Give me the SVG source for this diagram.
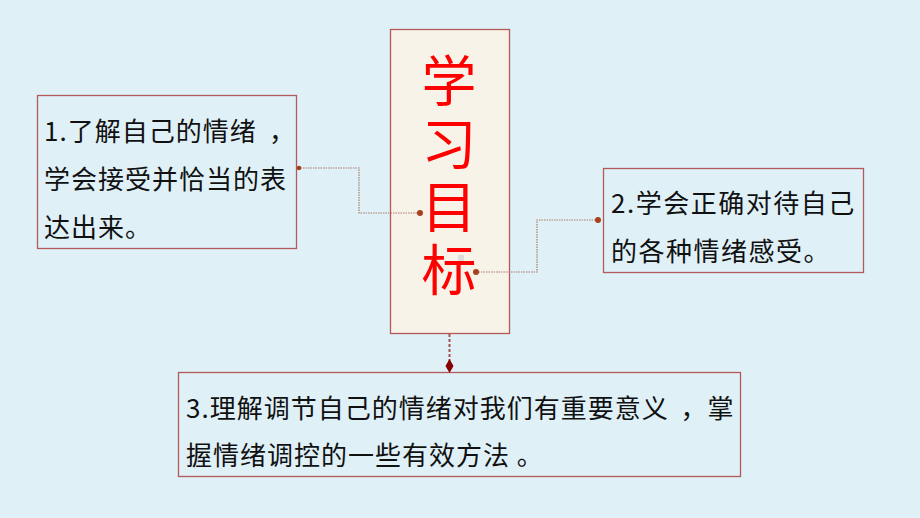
<svg xmlns="http://www.w3.org/2000/svg" width="920" height="518" viewBox="0 0 920 518">
<style>
.box{stroke:#b35a5a;stroke-width:1.3;}
.t{font-family:"Noto Sans CJK SC","Noto Sans",sans-serif;font-size:26px;fill:#111;}
.title{font-family:"Noto Sans CJK SC","Noto Sans",sans-serif;font-size:55px;fill:#ff0000;writing-mode:vertical-rl;letter-spacing:8px;}
.conn{fill:none;stroke:#b07a6a;stroke-width:1.2;stroke-dasharray:1.5 1;}
.dot{fill:#a8401e;}
</style>
<rect width="920" height="518" fill="#dff0f7"/>
<g id="center">
<rect class="box" x="390.5" y="29.5" width="119" height="304" fill="#f7f3e8"/>
<rect x="458" y="255" width="6" height="6" fill="#dddddd"/>
<text class="title" x="449" y="53">学习目标</text>
</g>
<g id="node1">
<rect class="box" x="37.5" y="95.5" width="259" height="153" fill="none"/>
<text class="t" x="44" y="141" letter-spacing="1">1.了解自己的情绪<tspan x="269">，</tspan></text>
<text class="t" x="44" y="189" letter-spacing="1">学会接受并恰当的表</text>
<text class="t" x="44" y="237" letter-spacing="1">达出来。</text>
</g>
<g id="node2">
<rect class="box" x="603.5" y="168.5" width="260" height="104" fill="none"/>
<text class="t" x="611" y="213" letter-spacing="1.5">2.学会正确对待自己</text>
<text class="t" x="611" y="261" letter-spacing="1.5">的各种情绪感受。</text>
</g>
<g id="node3">
<rect class="box" x="178.5" y="372.5" width="562" height="104" fill="none"/>
<text class="t" x="186" y="418" letter-spacing="1">3.理解调节自己的情绪对我们有重要意义 <tspan dx="5">，掌</tspan></text>
<text class="t" x="186" y="465" letter-spacing="1">握情绪调控的一些有效方法 。</text>
</g>
<g id="connectors">
<polyline class="conn" points="298,168 359,168 359,213 420,213"/>
<circle class="dot" cx="299" cy="168" r="2.3"/>
<circle class="dot" cx="420" cy="213" r="3"/>
<polyline class="conn" points="476,272 537,272 537,220 598,220"/>
<circle class="dot" cx="476" cy="272" r="3"/>
<circle class="dot" cx="598" cy="220" r="3"/>
<line x1="449.5" y1="334" x2="449.5" y2="362" stroke="#a85050" stroke-width="2" stroke-dasharray="3 2"/>
<polygon points="449.5,359 453.5,366 449.5,373 445.5,366" fill="#8b0000"/>
</g>
</svg>
